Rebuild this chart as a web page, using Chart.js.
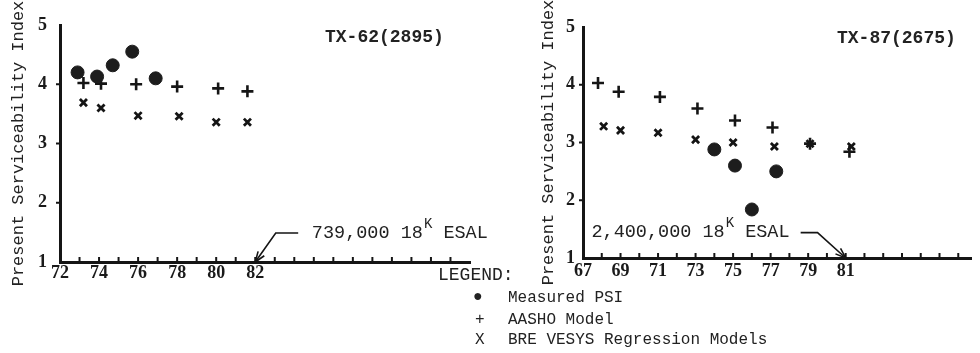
<!DOCTYPE html>
<html>
<head>
<meta charset="utf-8">
<script src="https://cdn.jsdelivr.net/npm/chart.js@4/dist/chart.umd.min.js"></script>
<style>
  body { margin: 0; background: #fff; }
  #wrap { position: relative; width: 980px; height: 353px; overflow: hidden; font-family: "Liberation Mono", monospace; color: #222; }
  canvas { position: absolute; top: 0; }
  .txt { position: absolute; white-space: pre; line-height: 1; }
</style>
</head>
<body>
<div id="wrap">
  <canvas id="tx62" width="490" height="353" style="left:0"></canvas>
  <canvas id="tx87" width="490" height="353" style="left:490px"></canvas>
  <div class="txt" style="left:325px;top:28px;font-size:18px;font-weight:bold">TX-62(2895)</div>
  <div class="txt" style="left:837px;top:29px;font-size:18px;font-weight:bold">TX-87(2675)</div>
  <div class="txt" style="left:438px;top:266px;font-size:18px">LEGEND:</div>
  <div class="txt" style="left:473px;top:289px;font-size:16px">●</div>
  <div class="txt" style="left:508px;top:290px;font-size:16px">Measured PSI</div>
  <div class="txt" style="left:475px;top:312px;font-size:16px">+</div>
  <div class="txt" style="left:508px;top:312px;font-size:16px">AASHO Model</div>
  <div class="txt" style="left:475px;top:332px;font-size:16px">X</div>
  <div class="txt" style="left:508px;top:332px;font-size:16px">BRE VESYS Regression Models</div>
</div>
<script>
// tick labels
const tx62Years = ['72', '74', '76', '78', '80', '82'];
const tx87Years = ['67', '69', '71', '73', '75', '77', '79', '81'];

// TX-62 (2895)
const tx62MeasuredX = [72.9, 73.9, 74.7, 75.7, 76.9];
const tx62MeasuredY = [4.2, 4.13, 4.32, 4.55, 4.1];
const tx62AashoX = [73.2, 74.1, 75.9, 78.0, 80.1, 81.6];
const tx62AashoY = [4.02, 4.01, 4.0, 3.96, 3.93, 3.88];
const tx62BreX = [73.2, 74.1, 76.0, 78.1, 80.0, 81.6];
const tx62BreY = [3.69, 3.6, 3.47, 3.46, 3.36, 3.36];

// TX-87 (2675)
const tx87MeasuredX = [74.0, 75.1, 76.0, 77.3];
const tx87MeasuredY = [2.88, 2.6, 1.84, 2.5];
const tx87AashoX = [67.8, 68.9, 71.1, 73.1, 75.1, 77.1, 79.1, 81.2];
const tx87AashoY = [4.03, 3.88, 3.79, 3.59, 3.38, 3.26, 2.98, 2.84];
const tx87BreX = [68.1, 69.0, 71.0, 73.0, 75.0, 77.2, 79.1, 81.3];
const tx87BreY = [3.28, 3.21, 3.17, 3.05, 3.0, 2.93, 2.98, 2.93];

function pts(xs, ys) {
  return xs.map((x, i) => ({ x: x, y: ys[i] }));
}

// tick marks, axis note and arrow
const decor = {
  id: 'decor',
  afterDraw(chart, args, opts) {
    const { ctx, scales: { x, y } } = chart;
    ctx.save();
    ctx.strokeStyle = '#151515';
    ctx.lineWidth = 2;
    for (let v = Math.ceil(x.min) + 1; v < x.max; v++) {
      const px = x.getPixelForValue(v);
      ctx.beginPath();
      ctx.moveTo(px, y.bottom);
      ctx.lineTo(px, y.bottom - 5);
      ctx.stroke();
    }
    for (let v = 2; v <= 4; v++) {
      const py = y.getPixelForValue(v);
      ctx.beginPath();
      ctx.moveTo(x.left, py);
      ctx.lineTo(x.left - 4, py);
      ctx.stroke();
    }
    const n = opts.note;
    // arrow
    const p = n.arrow.map(a => [x.getPixelForValue(a[0]), y.getPixelForValue(a[1])]);
    ctx.lineWidth = 1.6;
    ctx.beginPath();
    ctx.moveTo(p[0][0], p[0][1]);
    for (let i = 1; i < p.length; i++) ctx.lineTo(p[i][0], p[i][1]);
    ctx.stroke();
    const tip = p[p.length - 1], prev = p[p.length - 2];
    const ang = Math.atan2(tip[1] - prev[1], tip[0] - prev[0]);
    ctx.beginPath();
    ctx.moveTo(tip[0] - 11 * Math.cos(ang - 0.35), tip[1] - 11 * Math.sin(ang - 0.35));
    ctx.lineTo(tip[0], tip[1]);
    ctx.lineTo(tip[0] - 11 * Math.cos(ang + 0.35), tip[1] - 11 * Math.sin(ang + 0.35));
    ctx.stroke();
    // text
    let tx = x.getPixelForValue(n.at[0]);
    const ty = y.getPixelForValue(n.at[1]);
    ctx.fillStyle = '#222';
    ctx.textBaseline = 'middle';
    ctx.textAlign = 'left';
    ctx.font = '18.5px "Liberation Mono"';
    ctx.fillText(n.text, tx, ty);
    tx += ctx.measureText(n.text).width + 1;
    ctx.font = '14px "Liberation Mono"';
    ctx.fillText('K', tx, ty - 9);
    tx += ctx.measureText('K').width;
    ctx.font = '18.5px "Liberation Mono"';
    ctx.fillText(' ESAL', tx, ty);
    ctx.restore();
  }
};

function makeChart(id, c) {
  return new Chart(document.getElementById(id), {
    type: 'scatter',
    data: {
      datasets: [
        {
          label: 'Measured PSI',
          data: pts(c.mx, c.my),
          pointStyle: 'circle',
          pointRadius: 6.5,
          backgroundColor: '#1d1d1d',
          borderColor: '#1d1d1d',
          borderWidth: 1
        },
        {
          label: 'AASHO Model',
          data: pts(c.ax, c.ay),
          pointStyle: 'cross',
          pointRadius: 6,
          borderColor: '#151515',
          borderWidth: 2.6
        },
        {
          label: 'BRE VESYS Regression Models',
          data: pts(c.bx, c.by),
          pointStyle: 'crossRot',
          pointRadius: 5,
          borderColor: '#151515',
          borderWidth: 2.8
        }
      ]
    },
    options: {
      responsive: false,
      animation: false,
      layout: { padding: { top: c.top, right: c.right, left: 0, bottom: 0 } },
      plugins: {
        legend: { display: false },
        tooltip: { enabled: false },
        decor: { note: c.note }
      },
      scales: {
        x: {
          type: 'linear',
          min: c.xmin,
          max: c.xmax,
          afterFit: s => { s.height = c.xh; },
          grid: { display: false, drawTicks: false },
          border: { display: true, color: '#151515', width: 3 },
          ticks: {
            stepSize: 1,
            autoSkip: false,
            maxRotation: 0,
            padding: c.xpad,
            color: '#1a1a1a',
            font: { family: 'Liberation Serif', size: 18, weight: 'bold' },
            callback: v => c.years.includes(String(v)) ? String(v) : ''
          }
        },
        y: {
          min: 1,
          max: 5,
          afterFit: s => { s.width = c.yw; },
          grid: { display: false, drawTicks: false },
          border: { display: true, color: '#151515', width: 3 },
          ticks: {
            stepSize: 1,
            padding: c.ypad,
            color: '#1a1a1a',
            font: { family: 'Liberation Serif', size: 18, weight: 'bold' }
          },
          title: {
            display: true,
            text: 'Present Serviceability Index',
            color: '#222',
            font: { family: 'Liberation Mono', size: 17 },
            padding: { top: c.tpad, bottom: 0 }
          }
        }
      }
    },
    plugins: [decor]
  });
}

window.onload = function() {
  makeChart('tx62', {
    mx: tx62MeasuredX, my: tx62MeasuredY,
    ax: tx62AashoX, ay: tx62AashoY,
    bx: tx62BreX, by: tx62BreY,
    years: tx62Years,
    xmin: 72, xmax: 93,
    top: 25, right: 20, xh: 91, yw: 60,
    xpad: 1, ypad: 13, tpad: 8,
    note: { text: '739,000 18', at: [84.9, 1.49], arrow: [[84.2, 1.49], [83.05, 1.49], [82, 1]] }
  });
  makeChart('tx87', {
    mx: tx87MeasuredX, my: tx87MeasuredY,
    ax: tx87AashoX, ay: tx87AashoY,
    bx: tx87BreX, by: tx87BreY,
    years: tx87Years,
    xmin: 67, xmax: 87.7,
    top: 27, right: 0, xh: 95, yw: 93,
    xpad: 3, ypad: 8, tpad: 48,
    note: { text: '2,400,000 18', at: [67.45, 1.44], arrow: [[78.6, 1.44], [79.5, 1.44], [81, 1]] }
  });
};
</script>
</body>
</html>
